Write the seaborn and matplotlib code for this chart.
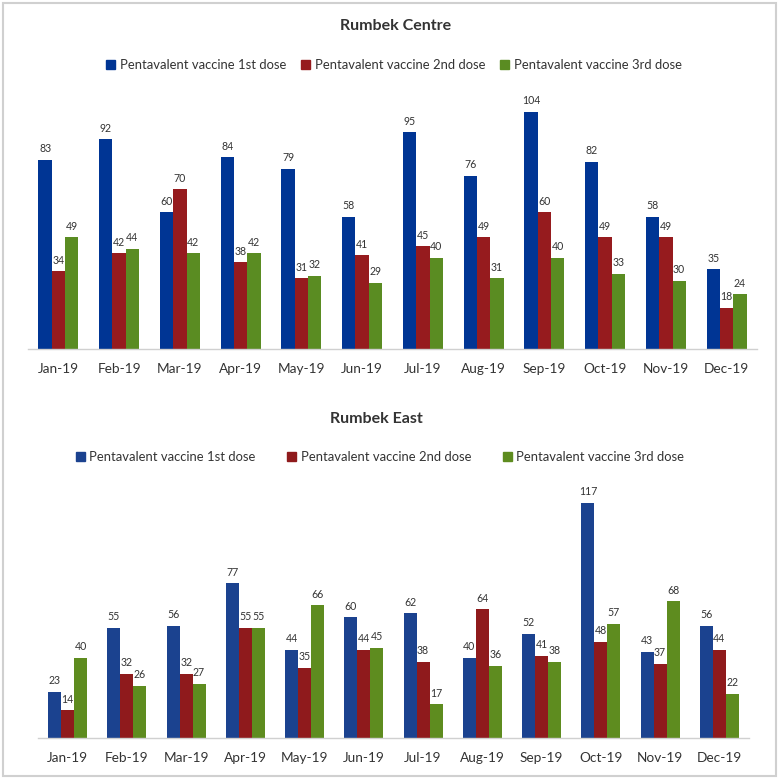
import matplotlib
matplotlib.use("Agg")
import matplotlib.pyplot as plt
import matplotlib.patches as mpatches
import seaborn as sns
import pandas as pd

months = ["Jan-19", "Feb-19", "Mar-19", "Apr-19", "May-19", "Jun-19",
          "Jul-19", "Aug-19", "Sep-19", "Oct-19", "Nov-19", "Dec-19"]
series = ["Pentavalent vaccine 1st dose", "Pentavalent vaccine 2nd dose",
          "Pentavalent vaccine 3rd dose"]

centre_1st = [83, 92, 60, 84, 79, 58, 95, 76, 104, 82, 58, 35]
centre_2nd = [34, 42, 70, 38, 31, 41, 45, 49, 60, 49, 49, 18]
centre_3rd = [49, 44, 42, 42, 32, 29, 40, 31, 40, 33, 30, 24]

east_1st = [23, 55, 56, 77, 44, 60, 62, 40, 52, 117, 43, 56]
east_2nd = [14, 32, 32, 55, 35, 44, 38, 64, 41, 48, 37, 44]
east_3rd = [40, 26, 27, 55, 66, 45, 17, 36, 38, 57, 68, 22]

sns.set_theme(style="white")
plt.rcParams["font.family"] = ["Lato", "DejaVu Sans"]

W, H = 780, 779
fig = plt.figure(figsize=(7.8, 7.79), dpi=100)


def long_df(a, b, c):
    rows = []
    for s, vals in zip(series, (a, b, c)):
        for m, v in zip(months, vals):
            rows.append({"Month": m, "Series": s, "Value": v})
    return pd.DataFrame(rows)


def make_panel(rect_px, ymax, data, colors, title, title_xy, legend_xy, colspacing):
    left, right, base, top = rect_px
    ax = fig.add_axes([left / W, 1 - base / H, (right - left) / W, (base - top) / H])
    df = long_df(*data)
    sns.barplot(data=df, x="Month", y="Value", hue="Series", palette=colors,
                order=months, hue_order=series, width=0.655, gap=0,
                ax=ax, legend=False, saturation=1, edgecolor="none")
    ax.set_xlim(-0.5, 11.5)
    ax.set_ylim(0, ymax)
    for cont in ax.containers:
        ax.bar_label(cont, fontsize=7.6, padding=4, color="#333333")
    for s in ["top", "right", "left"]:
        ax.spines[s].set_visible(False)
    ax.spines["bottom"].set_color("#D0D0D0")
    ax.spines["bottom"].set_linewidth(1.0)
    ax.set_yticks([])
    ax.set_xlabel("")
    ax.set_ylabel("")
    ax.tick_params(axis="x", length=0, pad=10, labelsize=9.8, colors="#333333")
    fig.text(title_xy[0] / W, 1 - title_xy[1] / H, title, ha="center", va="center",
             fontsize=11.5, fontweight="bold", color="#333333")
    handles = [mpatches.Patch(color=c, label=s) for c, s in zip(colors, series)]
    fig.legend(handles=handles, loc="center",
               bbox_to_anchor=(legend_xy[0] / W, 1 - legend_xy[1] / H),
               ncol=3, frameon=False, fontsize=9.4, handlelength=0.7,
               handleheight=0.7, handletextpad=0.35, columnspacing=colspacing,
               labelcolor="#333333")
    return ax


make_panel((28, 757, 349, 349 - 120 * 2.282), 120,
           (centre_1st, centre_2nd, centre_3rd),
           ["#003594", "#961B1E", "#5A8C22"],
           "Rumbek Centre", (396, 26), (394, 65), 1.15)

make_panel((38, 749, 738.3, 738.3 - 140 * 2.014), 140,
           (east_1st, east_2nd, east_3rd),
           ["#1B428F", "#8F1A1C", "#5E8C1F"],
           "Rumbek East", (376, 419), (380, 457), 2.4)

border = mpatches.Rectangle((3 / W, 3 / H), 773 / W, 773 / H, transform=fig.transFigure,
                            fill=False, edgecolor="#D0D0D0", linewidth=1.5)
fig.patches.append(border)

fig.savefig("out.png", dpi=100, facecolor="white")
